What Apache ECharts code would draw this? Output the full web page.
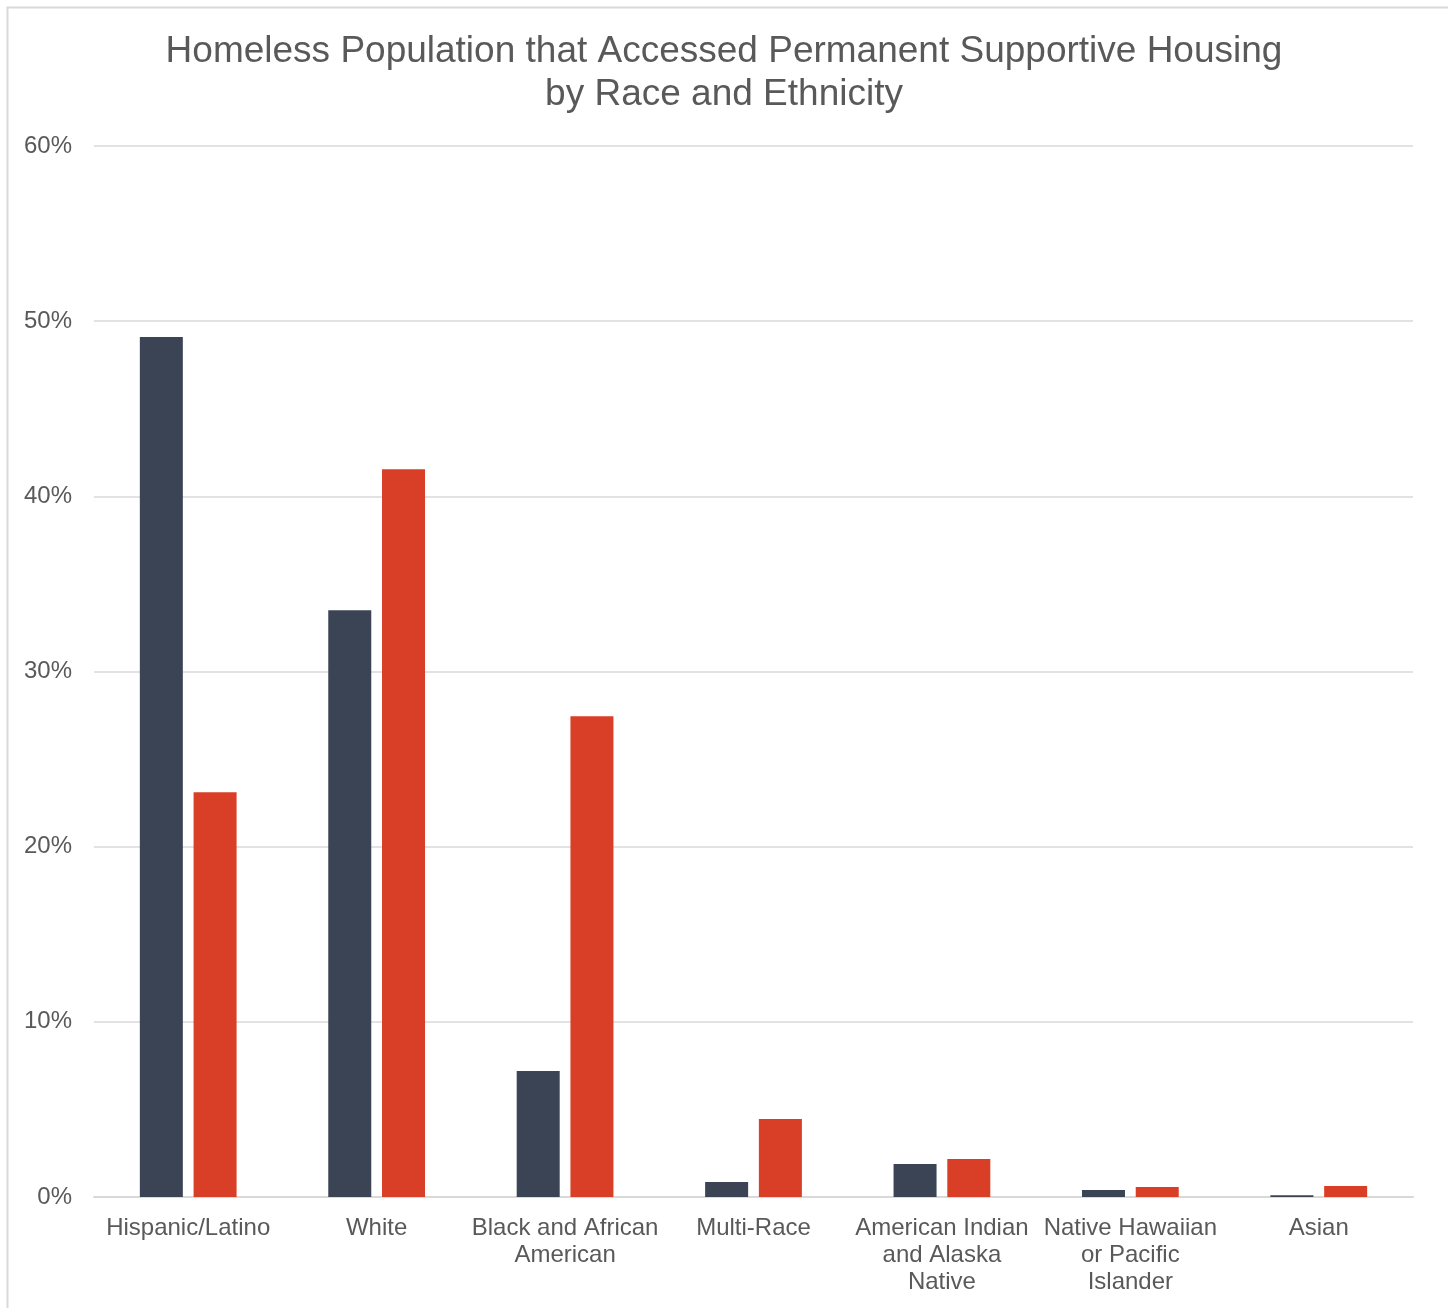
<!DOCTYPE html>
<html>
<head>
<meta charset="utf-8">
<script src="https://cdn.jsdelivr.net/npm/echarts@6/dist/echarts.min.js"></script>
<style>
html,body{margin:0;padding:0;background:#fff;}
#chart{width:1448px;height:1308px;}
</style>
</head>
<body>
<div id="chart"></div>
<script>
const categories = ["Hispanic/Latino", "White", "Black and African\nAmerican", "Multi-Race", "American Indian\nand Alaska\nNative", "Native Hawaiian\nor Pacific\nIslander", "Asian"];
const seriesA = [49.1, 33.5, 7.2, 0.86, 1.88, 0.4, 0.1];
const seriesB = [23.1, 41.55, 27.45, 4.45, 2.17, 0.57, 0.63];
const yTicks = [0, 10, 20, 30, 40, 50, 60];
const titleText = "Homeless Population that Accessed Permanent Supportive Housing\nby Race and Ethnicity";

const chart = echarts.init(document.getElementById('chart'), null, {renderer: 'canvas'});
const font = '"Liberation Sans", Arial, sans-serif';
chart.setOption({
  animation: false,
  backgroundColor: '#ffffff',
  textStyle: {fontFamily: font},
  graphic: [{
    type: 'rect', left: 5, top: 5, silent: true,
    shape: {width: 1480, height: 1340},
    style: {fill: 'none', stroke: '#d9d9d9', lineWidth: 2}
  }],
  title: {
    text: titleText, left: 'center', top: 25,
    textStyle: {fontFamily: font, fontSize: 37, fontWeight: 'normal', color: '#595959', lineHeight: 43}
  },
  grid: {left: 94, right: 35, top: 146, bottom: 111, containLabel: false},
  xAxis: {
    type: 'category', data: categories,
    axisLine: {show: true, lineStyle: {color: '#d9d9d9', width: 2}},
    axisTick: {show: false},
    axisLabel: {fontFamily: font, fontSize: 24, color: '#595959', lineHeight: 27, margin: 18, interval: 0}
  },
  yAxis: {
    type: 'value', min: yTicks[0], max: yTicks[yTicks.length - 1], interval: 10,
    axisLine: {show: false}, axisTick: {show: false},
    splitLine: {lineStyle: {color: '#d9d9d9', width: 1.5}},
    axisLabel: {fontFamily: font, fontSize: 24, color: '#595959', margin: 22, formatter: v => v + '%'}
  },
  series: [
    {name: 'Homeless Population', type: 'bar', data: seriesA, barWidth: 43, barGap: '25%',
     itemStyle: {color: '#3a4454'}},
    {name: 'Permanent Supportive Housing', type: 'bar', data: seriesB, barWidth: 43,
     itemStyle: {color: '#d93e27'}}
  ]
});
</script>
</body>
</html>
